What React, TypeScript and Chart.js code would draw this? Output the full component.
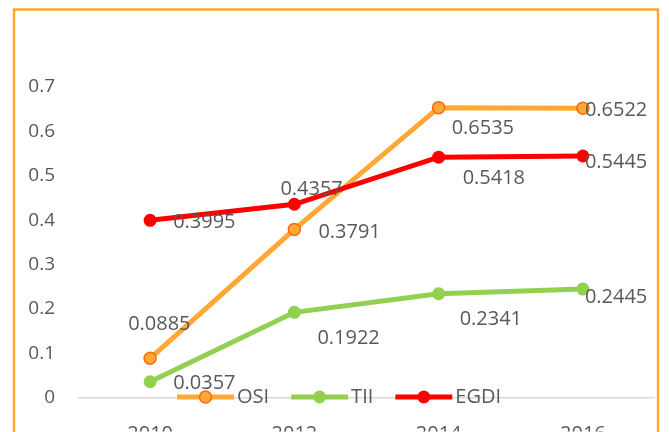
import React, { useEffect, useRef } from "react";
import { Chart, registerables } from "chart.js";

Chart.register(...registerables);

const years = ["2010", "2012", "2014", "2016"];
const osi = [0.0885, 0.3791, 0.6535, 0.6522];
const tii = [0.0357, 0.1922, 0.2341, 0.2445];
const egdi = [0.3995, 0.4357, 0.5418, 0.5445];
const seriesNames = ["OSI", "TII", "EGDI"];
const yTickLabels = ["0", "0.1", "0.2", "0.3", "0.4", "0.5", "0.6", "0.7"];

// label placement (text-left dx, baseline dy) relative to each point, per series
const labelOffsets = [
  [[-22, -28], [24, 9], [13, 26], [2, 8]],
  [[23, 7], [23, 32], [21, 31], [2, 14]],
  [[23, 8], [-14, -9], [24, 27], [2, 12]],
];

const FONT = "'Open Sans', 'DejaVu Sans', sans-serif";
const TEXT = "#595959";
const ORANGE = "#FFA833";
const GREEN = "#92D050";
const RED = "#FF0000";

const framePlugin = {
  id: "frame",
  beforeDraw(chart: any) {
    const ctx = chart.ctx;
    ctx.save();
    ctx.strokeStyle = ORANGE;
    ctx.lineWidth = 2.5;
    ctx.strokeRect(14, 9.5, 644, 460);
    ctx.restore();
  },
};

const labelsPlugin = {
  id: "pointLabels",
  afterDatasetsDraw(chart: any) {
    const ctx = chart.ctx;
    ctx.save();
    ctx.font = `20px ${FONT}`;
    ctx.fillStyle = TEXT;
    ctx.textAlign = "left";
    ctx.textBaseline = "alphabetic";
    chart.data.datasets.forEach((ds: any, di: number) => {
      const meta = chart.getDatasetMeta(di);
      meta.data.forEach((pt: any, i: number) => {
        const off = labelOffsets[di][i];
        ctx.fillText(String(ds.data[i]), pt.x + off[0], pt.y + off[1]);
      });
    });
    ctx.restore();
  },
};

const legendPlugin = {
  id: "customLegend",
  afterDraw(chart: any) {
    const ctx = chart.ctx;
    ctx.save();
    ctx.font = `20px ${FONT}`;
    ctx.textBaseline = "middle";
    ctx.textAlign = "left";
    let x = 177;
    const y = 397;
    chart.data.datasets.forEach((ds: any) => {
      ctx.strokeStyle = ds.borderColor;
      ctx.lineWidth = 5;
      ctx.lineCap = "butt";
      ctx.beginPath();
      ctx.moveTo(x, y);
      ctx.lineTo(x + 57, y);
      ctx.stroke();
      ctx.beginPath();
      ctx.arc(x + 28.5, y, ds.pointRadius, 0, Math.PI * 2);
      ctx.fillStyle = ds.pointBackgroundColor;
      ctx.fill();
      if (ds.pointBorderWidth > 0) {
        ctx.lineWidth = ds.pointBorderWidth;
        ctx.strokeStyle = ds.pointBorderColor;
        ctx.stroke();
      }
      ctx.fillStyle = TEXT;
      const tx = x + 60;
      ctx.fillText(ds.label, tx, y);
      x = tx + ctx.measureText(ds.label).width + 22;
    });
    ctx.restore();
  },
};

export default function App() {
  const ref = useRef<HTMLCanvasElement>(null);
  useEffect(() => {
    document.body.style.margin = "0";
    const chart = new Chart(ref.current as HTMLCanvasElement, {
      type: "line",
      data: {
        labels: years,
        datasets: [
          {
            label: seriesNames[0],
            data: osi,
            borderColor: ORANGE,
            backgroundColor: ORANGE,
            borderWidth: 5,
            pointRadius: 6,
            pointBackgroundColor: ORANGE,
            pointBorderColor: "#FF6A10",
            pointBorderWidth: 1.5,
            tension: 0,
            order: 2,
          },
          {
            label: seriesNames[1],
            data: tii,
            borderColor: GREEN,
            backgroundColor: GREEN,
            borderWidth: 5,
            pointRadius: 6.5,
            pointBackgroundColor: GREEN,
            pointBorderColor: GREEN,
            pointBorderWidth: 0,
            tension: 0,
            order: 1,
          },
          {
            label: seriesNames[2],
            data: egdi,
            borderColor: RED,
            backgroundColor: RED,
            borderWidth: 5,
            pointRadius: 6.5,
            pointBackgroundColor: RED,
            pointBorderColor: RED,
            pointBorderWidth: 0,
            tension: 0,
            order: 0,
          },
        ],
      },
      options: {
        responsive: false,
        animation: false,
        layout: { padding: { left: 0, top: 87, right: 14, bottom: 0 } },
        plugins: {
          legend: { display: false },
          tooltip: { enabled: false },
        },
        scales: {
          x: {
            offset: true,
            grid: { display: false, drawTicks: false, offset: true },
            border: { display: false },
            ticks: {
              padding: 25,
              color: TEXT,
              font: { family: FONT, size: 20 },
              maxRotation: 0,
            },
            afterFit: (s: any) => {
              s.height = 34;
            },
          },
          y: {
            min: 0,
            max: 0.7,
            grid: {
              drawTicks: false,
              color: (c: any) => (c.tick && c.tick.value === 0 ? "#D9D9D9" : "rgba(0,0,0,0)"),
              lineWidth: 1.5,
            },
            border: { display: false },
            ticks: {
              stepSize: 0.1,
              padding: 23,
              color: TEXT,
              font: { family: FONT, size: 19 },
              callback: (_v: any, i: number) => yTickLabels[i],
            },
            afterFit: (s: any) => {
              s.width = 78;
            },
          },
        },
      },
      plugins: [framePlugin, labelsPlugin, legendPlugin],
    });
    return () => chart.destroy();
  }, []);
  return (
    <div style={{ position: "fixed", left: 0, top: 0, width: 669, height: 432, background: "#fff" }}>
      <canvas ref={ref} width={669} height={432} />
    </div>
  );
}
